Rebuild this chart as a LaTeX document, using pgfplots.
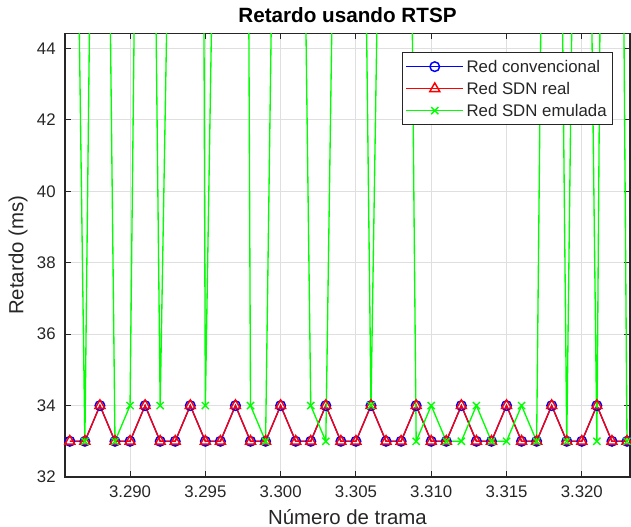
\documentclass[border=0pt]{standalone}
\usepackage{pgfplots}
\pgfplotsset{compat=1.18}
\usepackage{pgfplotstable}
\usepackage{fontspec}
\setmainfont{Liberation Sans}
\definecolor{axgray}{gray}{0.15}
\definecolor{mblue}{rgb}{0,0,1}
\definecolor{mred}{rgb}{1,0,0}
\definecolor{mgreen}{rgb}{0,1,0}

% frame (x1000), conventional, real SDN, emulated SDN (ms)
\pgfplotstableread{
f     conv real emu
3.286 33 33 64
3.287 33 33 33
3.288 34 34 71
3.289 33 33 33
3.290 33 33 34
3.291 34 34 73
3.292 33 33 34
3.293 33 33 58.5
3.294 34 34 150
3.295 33 33 34
3.296 33 33 60
3.297 34 34 130
3.298 33 33 34
3.299 33 33 33
3.300 34 34 64
3.301 33 33 67
3.302 33 33 34
3.303 34 34 33
3.304 33 33 62
3.305 33 33 70
3.306 34 34 34
3.307 33 33 61
3.308 33 33 78
3.309 34 34 33
3.310 33 33 34
3.311 33 33 33
3.312 34 34 33
3.313 33 33 34
3.314 33 33 33
3.315 34 34 33
3.316 33 33 34
3.317 33 33 33
3.318 34 34 75
3.319 33 33 33
3.320 33 33 68
3.321 34 34 33
3.322 33 33 90
3.323 33 33 33
}\datatable

\begin{document}
\begin{tikzpicture}
\begin{axis}[
  scale only axis,
  width=423.75pt, height=332.6pt,
  at={(0pt,0pt)}, anchor=south west,
  xmin=3.28568, xmax=3.3232,
  ymin=32, ymax=44.42,
  xtick={3.290,3.295,3.300,3.305,3.310,3.315,3.320},
  ytick={32,34,36,38,40,42,44},
  scaled x ticks=false,
  grid=major,
  major grid style={gray!25, line width=0.75pt},
  axis line style={axgray, line width=0.9pt},
  tick style={axgray, line width=0.75pt},
  major tick length=4.2pt,
  tick align=inside,
  /pgf/number format/assume math mode=true,
  ticklabel style={font=\fontsize{12.6}{14}\selectfont, text=axgray},
  xticklabel style={yshift=-3.4pt, /pgf/number format/.cd, fixed, fixed zerofill, precision=3},
  yticklabel style={xshift=-3.5pt},
  title={Retardo usando RTSP},
  title style={font=\fontsize{15.5}{17}\selectfont\bfseries, at={(axis description cs:0.5,1.0214)}, anchor=base, yshift=-4.8pt},
  xlabel={Número de trama},
  ylabel={Retardo (ms)},
  label style={font=\fontsize{15.3}{17}\selectfont, text=axgray},
  xlabel style={at={(axis description cs:0.5,-0.0902)}, anchor=center},
  ylabel style={at={(axis description cs:-0.0832,0.5)}, anchor=center},
  legend style={at={(axis description cs:0.596,0.958)}, anchor=north west,
    font=\fontsize{12.6}{14}\selectfont, text=axgray,
    draw=axgray, line width=0.75pt, inner sep=2.5pt,
    nodes={text height=10.5pt, text depth=1.5pt, inner sep=2pt},
    row sep=0.5pt},
  legend cell align=left,
  legend image code/.code={\draw[mark repeat=2,mark phase=2,#1] plot coordinates {(0pt,0pt) (21.4pt,0pt) (42.75pt,0pt)};},
]
\addplot[mblue, line width=1pt, mark=o, mark size=3.6pt, mark options={solid, line width=1.1pt}]
  table[x=f, y=conv] {\datatable};
\addlegendentry{Red convencional}
\addplot[mred, line width=1pt, mark=triangle, mark size=4.3pt, mark options={solid, line width=1.1pt}]
  table[x=f, y=real] {\datatable};
\addlegendentry{Red SDN real}
\addplot[mgreen, line width=1pt, mark=x, mark size=3.8pt, mark options={solid, line width=1pt}]
  table[x=f, y=emu] {\datatable};
\addlegendentry{Red SDN emulada}
\end{axis}
\pgfresetboundingbox
\path[use as bounding box] (-48.75pt,-37.5pt) rectangle (424.5pt,357.75pt);
\end{tikzpicture}
\end{document}
